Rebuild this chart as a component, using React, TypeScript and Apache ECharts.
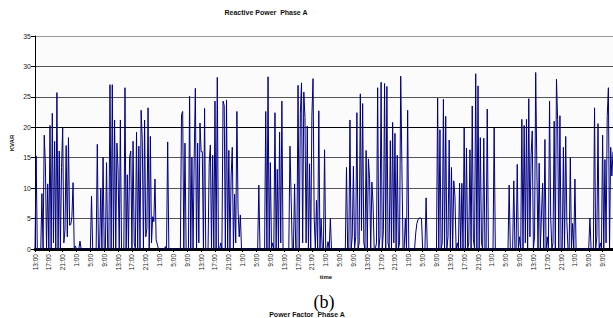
import React, { useEffect, useRef } from "react";
import * as echarts from "echarts";

// Reactive power (KVAR), 20-minute samples, each day starting at 13:00
const day1 = [0,15.3,0,0,0,0,9.1,0,18.7,14, 0,10.7,0,20.3,0,22.3,1,17.7,0,25.7, 0,16.1,0,13.4,19.9,1,3.1,17,2,18.3, 3.9,4,5.3,10.9,0,0.5,0,0,0,1.3, 0,0,0,0,0,0,0,0,0,8.7, 0,0,0,0,17.2,0,0,10,0,15.1, 0,0,14.2,0,0,27,0,27,0,21.2, 0,17.4];
const day2 = [13,0,21.2,0,0,0,26.5,0,12.2,0, 15,16.1,0,17.7,1,0,19.2,0,16.9,0, 22.8,17.8,0,21.2,2,3.4,23.2,0,18.5,1, 5.3,4.5,11.5,1.5,0.8,0,0,0,0,0, 0,0.4,0,17.6,0,0,0,0,0,0, 0,0,0,0,0,22.1,22.6,0,17.4,0, 0,0,25.1,0,15.1,0,15.1,26.4,0,17.4, 1,20.7];
const day3 = [16,16,0,23.1,0,0,0,14.2,17.1,0, 15.4,0,24.3,0,28.2,0,0,1,0,24.3, 23.6,0,24.5,0,16.2,0,12,16.7,0,9, 1,22.6,6.4,2,5.6,0,0,0,0,0, 0,0,0,0,0,0,0,0,0,0, 10.5,0,0,0,0,0,22.6,0,28.3,0, 14.2,0,1,0,22.4,0,13.1,0,19.2,1, 24.3,0];
const day4 = [0,0,0,0,0,16.9,8.6,0,0,10.7, 0,0,26.9,0,22.3,27.3,1,25.8,21.6,1, 20.2,0,14,0,21.8,28,5,0,8,0, 22.7,0,5,0,0,16.3,0,0,1.2,0, 5,0,0,0,0,0,0,0,0,0, 0,0,0,0,13.4,0,0,21.2,0,2, 13.6,0,2,22.4,0,1,25.5,3,23.9,1, 0,16.2];
const day5 = [0,14.8,11.6,0,11,7.5,0,0,1,26.5, 0,2,27.4,0,3,27.2,0,26.7,1,0, 17.8,0,20.8,1,19,0,15.4,0,1,28.4, 13.9,0,0,5,0,22.8,0,0,0,0, 0,0,2.6,4.2,4.8,5.1,5.1,5,0,0, 0,8.4,0,0,0,0,0,0,0,0, 0,24.8,0,19.6,0,1,24.6,0,21.8,0, 2,17.9];
const day6 = [0,13.4,0,11.2,8.6,0,1,0,10.8,0, 10.8,0,19.9,0,16.6,0,1,16.3,0,23.5, 1.5,0,28.8,0,26.8,0,18.3,1,0,18.2, 0,0,23,0,0,0,0,0,19.9,0, 0,0,0,0,0,0,0,0,0,0, 0,10.5,0,0,0,11.2,0,0,13.9,0, 2,0,21.3,0,20.3,1,21.3,0,24.7,2, 15.4,19.4];
const day7 = [0,2,29,13.3,0,14.1,0,5.6,10.8,0, 18,0,2,0,24.3,5.3,0,1,21,0, 27.9,21.3,0,21.9,0,0,16.7,0,18.5,4.5, 0,0,15,0,4.2,0,11.5,0,0,0, 0,0,0,0,0,0,0,0,0.3,5.1, 0,0,0,23.2,0,2,20.6,0,1,0, 18.7,0,14.7,1,21.8,26.5,0,16.7,12,16];

const kvar = [...day1, ...day2, ...day3, ...day4, ...day5, ...day6, ...day7];

const startHour = 13;
const stepMinutes = 20;
const categories = kvar.map((_, i) => {
  const total = startHour * 60 + i * stepMinutes;
  const h = Math.floor(total / 60) % 24;
  const m = total % 60;
  return `${h}:${m < 10 ? "0" : ""}${m}`;
});

const yTicks = { min: 0, max: 35, interval: 5 };
const FONT = "'Liberation Sans', Arial, sans-serif";

export default function App() {
  const ref = useRef<HTMLDivElement>(null);
  useEffect(() => {
    const chart = echarts.init(ref.current!, null, { renderer: "svg" });
    chart.setOption({
      animation: false,
      backgroundColor: "#ffffff",
      textStyle: { fontFamily: FONT },
      grid: {
        left: 35,
        right: 0,
        top: 36,
        bottom: 69,
        show: true,
        backgroundColor: "#fbfbfb",
        borderWidth: 0,
      },
      xAxis: {
        type: "category",
        data: categories,
        boundaryGap: false,
        axisLine: { show: true, lineStyle: { color: "#000", width: 3 } },
        axisTick: { show: true, interval: 11, length: 3, lineStyle: { color: "#000" } },
        axisLabel: {
          interval: 11,
          rotate: 90,
          fontSize: 6.5,
          color: "#222",
          margin: 5,
          fontFamily: FONT,
        },
        splitLine: { show: false },
      },
      yAxis: {
        type: "value",
        min: yTicks.min,
        max: yTicks.max,
        interval: yTicks.interval,
        axisLine: { show: true, lineStyle: { color: "#000", width: 1 } },
        axisTick: { show: true, length: 4, lineStyle: { color: "#000" } },
        axisLabel: { fontSize: 7, color: "#222", margin: 4, fontFamily: FONT },
        splitLine: {
          show: true,
          lineStyle: {
            color: ["#000", "#555", "#555", "#555", "#000", "#555", "#555", "#9a9a9a"],
            width: 1,
          },
        },
      },
      series: [
        {
          type: "line",
          data: kvar,
          showSymbol: false,
          symbol: "none",
          lineStyle: { color: "#000080", width: 1 },
          itemStyle: { color: "#000080" },
          z: 3,
        },
      ],
      graphic: [
        {
          type: "text",
          x: 266,
          y: 12,
          style: {
            text: "Reactive Power  Phase A",
            fontSize: 7,
            fontWeight: "bold",
            fontFamily: FONT,
            fill: "#111",
            align: "center",
            verticalAlign: "middle",
          },
        },
        {
          type: "text",
          x: 12,
          y: 143,
          rotation: Math.PI / 2,
          style: {
            text: "KVAR",
            fontSize: 6,
            fontWeight: "bold",
            fontFamily: FONT,
            fill: "#111",
            align: "center",
            verticalAlign: "middle",
          },
        },
        {
          type: "text",
          x: 326,
          y: 277,
          style: {
            text: "time",
            fontSize: 6,
            fontWeight: "bold",
            fontFamily: FONT,
            fill: "#111",
            align: "center",
            verticalAlign: "middle",
          },
        },
        {
          type: "text",
          x: 324,
          y: 302,
          style: {
            text: "(b)",
            fontSize: 18,
            fontFamily: "'Liberation Serif', 'Times New Roman', serif",
            fill: "#000",
            align: "center",
            verticalAlign: "middle",
          },
        },
        {
          type: "text",
          x: 307,
          y: 314,
          style: {
            text: "Power Factor  Phase A",
            fontSize: 7,
            fontWeight: "bold",
            fontFamily: FONT,
            fill: "#111",
            align: "center",
            verticalAlign: "middle",
          },
        },
      ],
    });
    return () => chart.dispose();
  }, []);
  return (
    <div
      ref={ref}
      style={{ position: "absolute", left: 0, top: 0, width: 613, height: 318 }}
    />
  );
}
